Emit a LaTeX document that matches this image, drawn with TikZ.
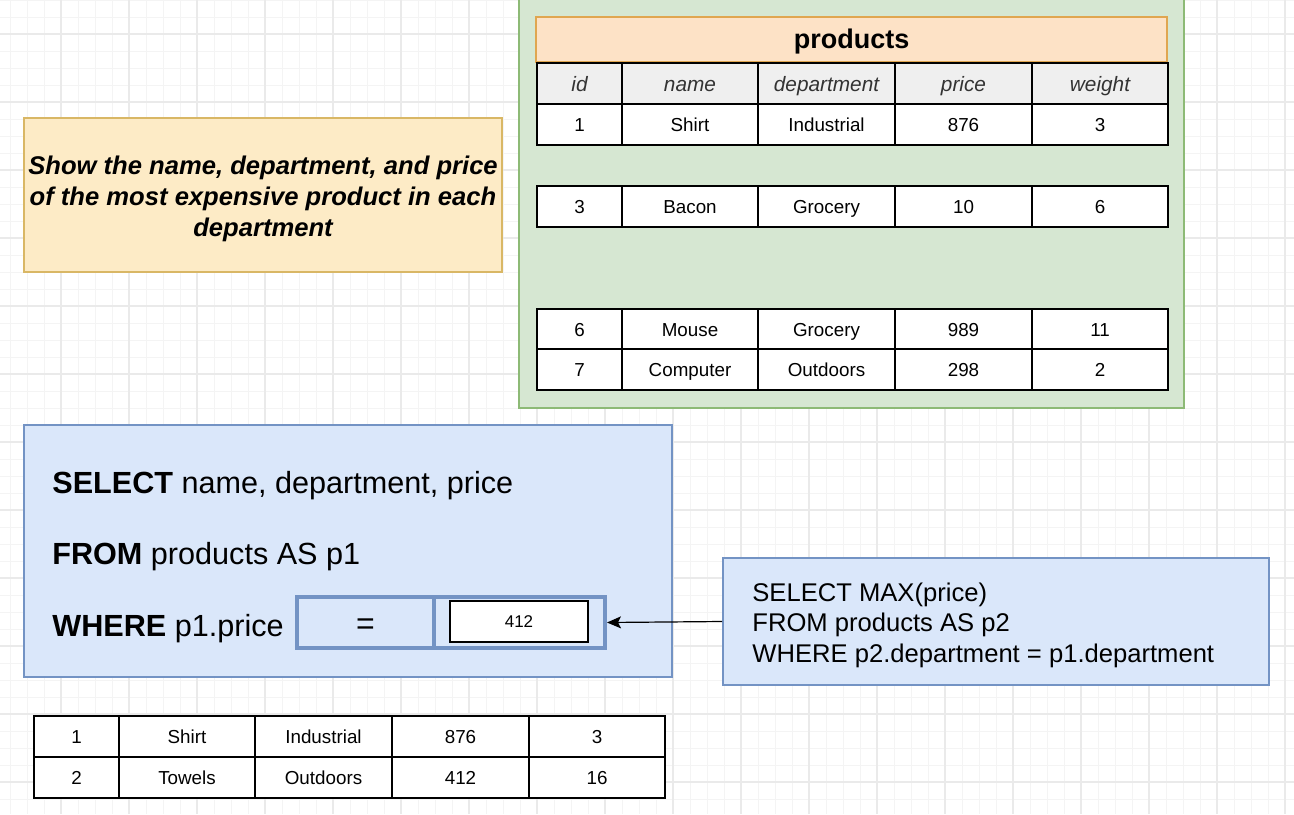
\documentclass[tikz,border=0pt]{standalone}
\usepackage{fontspec}
\setmainfont{Liberation Sans}
\usepackage{xcolor}
\usetikzlibrary{arrows.meta}

\definecolor{gridminor}{HTML}{F4F4F4}
\definecolor{gridmajor}{HTML}{EAEAEA}
\definecolor{noteFill}{HTML}{FDEBC6}
\definecolor{noteLine}{HTML}{D9B765}
\definecolor{tblFill}{HTML}{D6E7D2}
\definecolor{tblLine}{HTML}{8DBA76}
\definecolor{headFill}{HTML}{FDE2C6}
\definecolor{headLine}{HTML}{E0A650}
\definecolor{sqlFill}{HTML}{DAE7FA}
\definecolor{sqlLine}{HTML}{7393C4}
\definecolor{colFill}{HTML}{EFEFEF}

\tikzset{
    cell/.style={draw=black, line width=1pt, anchor=north west, inner sep=0pt,
        minimum height=20.5pt, text height=8.5pt, text depth=1.5pt, fill=white,
        font=\fontsize{9.4}{11}\selectfont},
    colhead/.style={fill=colFill, text=black!80, text height=9.5pt, text depth=1.5pt,
        font=\fontsize{10.4}{12}\selectfont\itshape},
    panel/.style={rectangle, line width=0.8pt, inner sep=0pt},
    slot/.style={rectangle, draw=sqlLine, line width=2pt, inner sep=0pt,
        minimum width=68.5pt, minimum height=25.5pt},
}

% one table row: name, extra style, left x, top y, cell texts
\newcommand{\tablerow}[5]{%
    \foreach \txt [count=\c] in {#5} {
        \pgfmathsetmacro{\cx}{{0,85,221,358,495}[\c-1]}
        \pgfmathsetmacro{\cw}{{85,136,137,137,136}[\c-1]}
        \node[cell, #2, minimum width=\cw*0.5pt] (#1-\c) at (#3+\cx, #4) {\txt};
    }
}

\begin{document}
\begin{tikzpicture}[x=0.5pt, y=-0.5pt]
    \useasboundingbox (0,0) rectangle (1294,814);
    \clip (0,0) rectangle (1294,814);
    \fill[white] (0,0) rectangle (1294,814);

    % Grid
    \foreach \gx in {10,27,...,1294} \draw[gridminor, line width=0.5pt] (\gx,0) -- (\gx,814);
    \foreach \gy in {0,17,...,814} \draw[gridminor, line width=0.5pt] (0,\gy) -- (1294,\gy);
    \foreach \gx in {61,129,...,1294} \draw[gridmajor, line width=0.6pt] (\gx,0) -- (\gx,814);
    \foreach \gy in {34,102,...,814} \draw[gridmajor, line width=0.6pt] (0,\gy) -- (1294,\gy);

    % Task
    \node[panel, draw=noteLine, fill=noteFill, minimum width=239pt, minimum height=77pt] (task) at (263,195) {};
    \node[align=center, inner sep=0pt, font=\fontsize{12.8}{15.5}\selectfont\bfseries\itshape] (tasktxt) at (263,199)
        {Show the name, department, and price\\of the most expensive product in each\\department};

    % Products table
    \node[panel, draw=tblLine, fill=tblFill, minimum width=332.5pt, minimum height=211pt] (tbl) at (851.5,197) {};
    \node[panel, draw=headLine, fill=headFill, minimum width=315.5pt, minimum height=22.5pt,
        text height=11pt, text depth=2pt,
        font=\fontsize{13.5}{16}\selectfont\bfseries] (title) at (851.5,39.5) {products};
    \tablerow{hd}{colhead}{536}{62}{id,name,department,price,weight}
    \tablerow{r1}{}{536}{103}{1,Shirt,Industrial,876,3}
    \tablerow{r3}{}{536}{185}{3,Bacon,Grocery,10,6}
    \tablerow{r6}{}{536}{308}{6,Mouse,Grocery,989,11}
    \tablerow{r7}{}{536}{348}{7,Computer,Outdoors,298,2}

    % Outer query
    \node[panel, draw=sqlLine, fill=sqlFill, minimum width=324pt, minimum height=126pt] (outer) at (348,551) {};
    \node[anchor=base west, inner sep=0pt, font=\fontsize{15.3}{18}\selectfont] (sel) at (52,493)
        {\textbf{SELECT} name, department, price};
    \node[anchor=base west, inner sep=0pt, font=\fontsize{15.3}{18}\selectfont] (from) at (52,564)
        {\textbf{FROM} products AS p1};
    \node[anchor=base west, inner sep=0pt, font=\fontsize{15.3}{18}\selectfont] (where) at (52,636)
        {\textbf{WHERE} p1.price};
    \node[slot, text height=12pt, text depth=0pt, font=\fontsize{16}{18}\selectfont] (eq) at (365.5,622.5) {=};
    \node[slot, minimum width=85.5pt] (cmp) at (519.5,622.5) {};
    \node[draw=black, line width=0.8pt, fill=white, minimum width=69pt, minimum height=20.5pt,
        inner sep=0pt, font=\fontsize{8.5}{10}\selectfont] (val) at (519,621.5) {412};

    % Subquery
    \node[panel, draw=sqlLine, fill=sqlFill, minimum width=273pt, minimum height=63.5pt] (sub) at (996,621.5) {};
    \node[anchor=west, inner sep=0pt, align=left, font=\fontsize{12.8}{15.25}\selectfont] (subtxt) at (752,625)
        {SELECT MAX(price)\\FROM products AS p2\\WHERE p2.department = p1.department};
    \draw[-{Stealth[length=7pt, width=6pt, inset=1.5pt]}, line width=0.6pt] (sub.west) -- (cmp.east);

    % Result
    \tablerow{s1}{}{33}{715}{1,Shirt,Industrial,876,3}
    \tablerow{s2}{}{33}{756}{2,Towels,Outdoors,412,16}
\end{tikzpicture}
\end{document}
